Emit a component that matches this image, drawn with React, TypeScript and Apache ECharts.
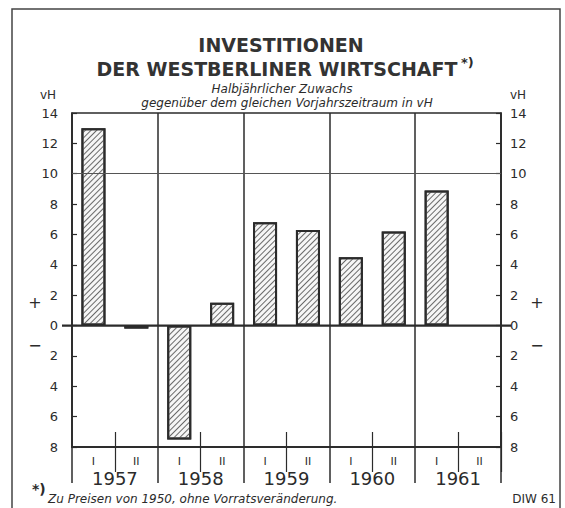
import React, { useEffect, useRef } from "react";
import * as echarts from "echarts";

const halfYears = [
  "1957 I", "1957 II", "1958 I", "1958 II", "1959 I",
  "1959 II", "1960 I", "1960 II", "1961 I", "1961 II",
];
const years = ["1957", "1958", "1959", "1960", "1961"];
const growth: (number | null)[] = [13.0, -0.2, -7.5, 1.5, 6.8, 6.3, 4.5, 6.2, 8.9, null];
const yMin = -8;
const yMax = 14;
const yStep = 2;
const gridLineValue = 10;

const INK = "#2b2b2b";
const FONT = "DejaVu Sans";

export default function App() {
  const ref = useRef<HTMLDivElement>(null);

  useEffect(() => {
    document.body.style.margin = "0";
    const chart = echarts.init(ref.current!, null, { renderer: "svg" });
    const gridLeft = 72;
    const gridRight = 64;
    const W = 565;

    const valueAxis = (pos: "left" | "right", margin: number) => ({
      type: "value",
      position: pos,
      min: yMin,
      max: yMax,
      interval: yStep,
      axisLine: { show: true, onZero: false, lineStyle: { color: INK, width: 1.5 } },
      axisTick: { show: true, inside: true, length: 5, lineStyle: { color: INK, width: 1.2 } },
      axisLabel: {
        formatter: (v: number) => String(Math.abs(v)),
        margin,
        fontSize: 13,
        fontFamily: FONT,
        color: INK,
      },
      splitLine: { show: false },
    });

    chart.setOption({
      animation: false,
      aria: { enabled: true, decal: { show: true } },
      backgroundColor: "#ffffff",
      grid: {
        left: gridLeft,
        right: gridRight,
        top: 113,
        bottom: 61,
        show: true,
        borderColor: INK,
        borderWidth: 1.5,
        backgroundColor: "transparent",
      },
      xAxis: [
        {
          type: "category",
          data: halfYears,
          position: "bottom",
          axisLine: { show: true, onZero: false, lineStyle: { color: INK, width: 1.5 } },
          axisTick: {
            show: true,
            interval: (i: number) => i % 2 === 1,
            length: 25,
            lineStyle: { color: INK, width: 1.2 },
          },
          axisLabel: {
            interval: 0,
            formatter: (v: string) => v.split(" ")[1],
            margin: 9,
            fontSize: 11,
            fontFamily: FONT,
            color: INK,
          },
          splitLine: { show: false },
        },
        {
          type: "category",
          data: years,
          position: "bottom",
          axisLine: { show: true, onZero: false, lineStyle: { color: INK, width: 1.5 } },
          axisTick: { show: true, interval: 0, length: 36, lineStyle: { color: INK, width: 1.5 } },
          axisLabel: {
            interval: 0,
            margin: 22,
            fontSize: 18,
            fontFamily: FONT,
            color: INK,
          },
          splitLine: { show: true, interval: 0, lineStyle: { color: INK, width: 1.5 } },
        },
        {
          type: "category",
          data: halfYears,
          position: "bottom",
          axisLine: { show: false, onZero: false },
          axisTick: {
            show: true,
            inside: true,
            interval: (i: number) => i % 2 === 1,
            length: 15,
            lineStyle: { color: INK, width: 1.2 },
          },
          axisLabel: { show: false },
          splitLine: { show: false },
        },
      ],
      yAxis: [valueAxis("left", 14), valueAxis("right", 9)],
      series: [
        {
          type: "bar",
          xAxisIndex: 0,
          yAxisIndex: 0,
          data: growth,
          barWidth: "56%",
          itemStyle: {
            color: "#f6f6f6",
            borderColor: INK,
            borderWidth: 2,
            decal: {
              symbol: "rect",
              symbolSize: 1,
              color: "#6a6a6a",
              dashArrayX: [1, 0],
              dashArrayY: [1, 3],
              rotation: -Math.PI / 4,
            },
          },
          markLine: {
            silent: true,
            symbol: "none",
            label: { show: false },
            lineStyle: { color: "#555", width: 1, type: "solid" },
            data: [{ yAxis: gridLineValue }],
          },
        },
      ],
    });

    const y0 = chart.convertToPixel({ yAxisIndex: 0 }, 0) as number;
    const yPlus = chart.convertToPixel({ yAxisIndex: 0 }, 1.5) as number;
    const yMinus = chart.convertToPixel({ yAxisIndex: 0 }, -1.3) as number;
    const xL = gridLeft;
    const xR = W - gridRight;

    const txt = (
      text: string,
      x: number,
      y: number,
      size: number,
      align: string,
      extra: any = {}
    ) => ({
      type: "text",
      x,
      y,
      silent: true,
      style: {
        text,
        fontSize: size,
        fontFamily: FONT,
        fill: INK,
        align,
        verticalAlign: "middle",
        ...extra,
      },
    });

    chart.setOption({
      graphic: [
        {
          type: "rect",
          silent: true,
          shape: { x: 12, y: 9, width: 548, height: 520 },
          style: { fill: "none", stroke: "#444", lineWidth: 1.5 },
        },
        {
          type: "line",
          silent: true,
          shape: { x1: xL - 10, y1: y0, x2: xR + 10, y2: y0 },
          style: { stroke: INK, lineWidth: 2.2 },
          z: 10,
        },
        txt("INVESTITIONEN", 281, 45, 19, "center", { fontWeight: "bold", fill: "#333" }),
        txt("DER WESTBERLINER WIRTSCHAFT", 277, 69, 19, "center", { fontWeight: "bold", fill: "#333" }),
        txt("*)", 461, 62, 13, "left", { fontWeight: "bold" }),
        txt("Halbjährlicher Zuwachs", 282, 89, 12, "center", { fontStyle: "italic" }),
        txt("gegenüber dem gleichen Vorjahrszeitraum in vH", 287, 103, 12, "center", {
          fontStyle: "italic",
        }),
        txt("vH", 56, 95, 12, "right"),
        txt("vH", 510, 95, 12, "left"),
        txt("+", 35, yPlus, 16, "center"),
        txt("−", 35, yMinus, 16, "center"),
        txt("+", 537, yPlus, 16, "center"),
        txt("−", 537, yMinus, 16, "center"),
        txt("*)", 32, 489, 14, "left", { fontWeight: "bold" }),
        txt("Zu Preisen von 1950, ohne Vorratsveränderung.", 48, 499, 12, "left", {
          fontStyle: "italic",
        }),
        txt("DIW 61", 556, 499, 12, "right"),
      ],
    });

    return () => chart.dispose();
  }, []);

  return (
    <div
      ref={ref}
      style={{ position: "absolute", left: 0, top: 0, width: 565, height: 508 }}
    />
  );
}
